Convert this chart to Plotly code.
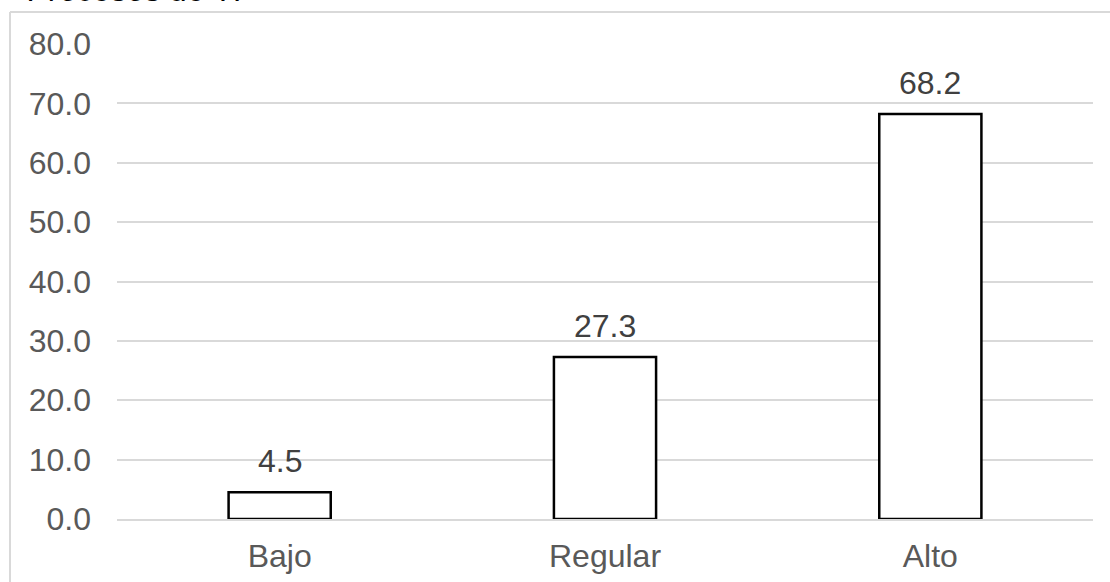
import plotly.graph_objects as go

categories = ["Bajo", "Regular", "Alto"]
values = [4.5, 27.3, 68.2]
y_ticks = [0, 10, 20, 30, 40, 50, 60, 70, 80]
y_tick_labels = ["0.0", "10.0", "20.0", "30.0", "40.0", "50.0", "60.0", "70.0", "80.0"]
title_text = "Procesos de TI"

W, H = 1110, 582
L, R, T, B = 117, 17, 44, 63
pw, ph = W - L - R, H - T - B

def px_x(px):
    return (px - L) / pw

def px_y(py):
    return (H - B - py) / ph

font = "Liberation Sans, Arial, sans-serif"
grid = "#d9d9d9"
FS = 32

fig = go.Figure(go.Bar(
    x=categories, y=values, width=0.314,
    marker=dict(color="white", line=dict(color="black", width=2.5)),
    cliponaxis=False,
))

label_annotations = [
    dict(x=c, y=v, xref="x", yref="y", text=f"{v:.1f}", showarrow=False,
         xanchor="center", yanchor="bottom", yshift=11,
         font=dict(family=font, size=FS, color="#404040"))
    for c, v in zip(categories, values)
]

fig.update_layout(
    width=W, height=H,
    autosize=False,
    margin=dict(l=L, r=R, t=T, b=B, pad=0, autoexpand=False),
    paper_bgcolor="white", plot_bgcolor="white",
    showlegend=False,
    font=dict(family=font),
    xaxis=dict(
        automargin=False,
        showgrid=False, showline=True, linecolor=grid, linewidth=1.5,
        layer="above traces", ticks="",
        tickfont=dict(family=font, size=FS, color="#595959"),
        ticklabelstandoff=8,
    ),
    yaxis=dict(
        automargin=False,
        range=[0, 80], tickvals=y_ticks, ticktext=y_tick_labels,
        showgrid=True, gridcolor=grid, gridwidth=1.5,
        zeroline=False, showline=False, ticks="",
        tickfont=dict(family=font, size=FS, color="#595959"),
        ticklabelstandoff=25,
    ),
    shapes=[
        dict(type="line", xref="paper", yref="paper",
             x0=px_x(10), x1=px_x(W + 5), y0=px_y(12), y1=px_y(12),
             line=dict(color=grid, width=2)),
        dict(type="line", xref="paper", yref="paper",
             x0=px_x(10), x1=px_x(10), y0=px_y(12), y1=px_y(H + 5),
             line=dict(color=grid, width=2)),
    ],
    annotations=label_annotations + [
        dict(text=title_text, xref="paper", yref="paper",
             x=px_x(26), y=px_y(-10), xanchor="left", yanchor="middle",
             showarrow=False,
             font=dict(family=font, size=FS, color="black", style="italic")),
    ],
)

fig.write_html(
    "out.html",
    config={"displayModeBar": False},
    post_script="document.body.style.margin='0';document.body.style.overflow='hidden';",
)
